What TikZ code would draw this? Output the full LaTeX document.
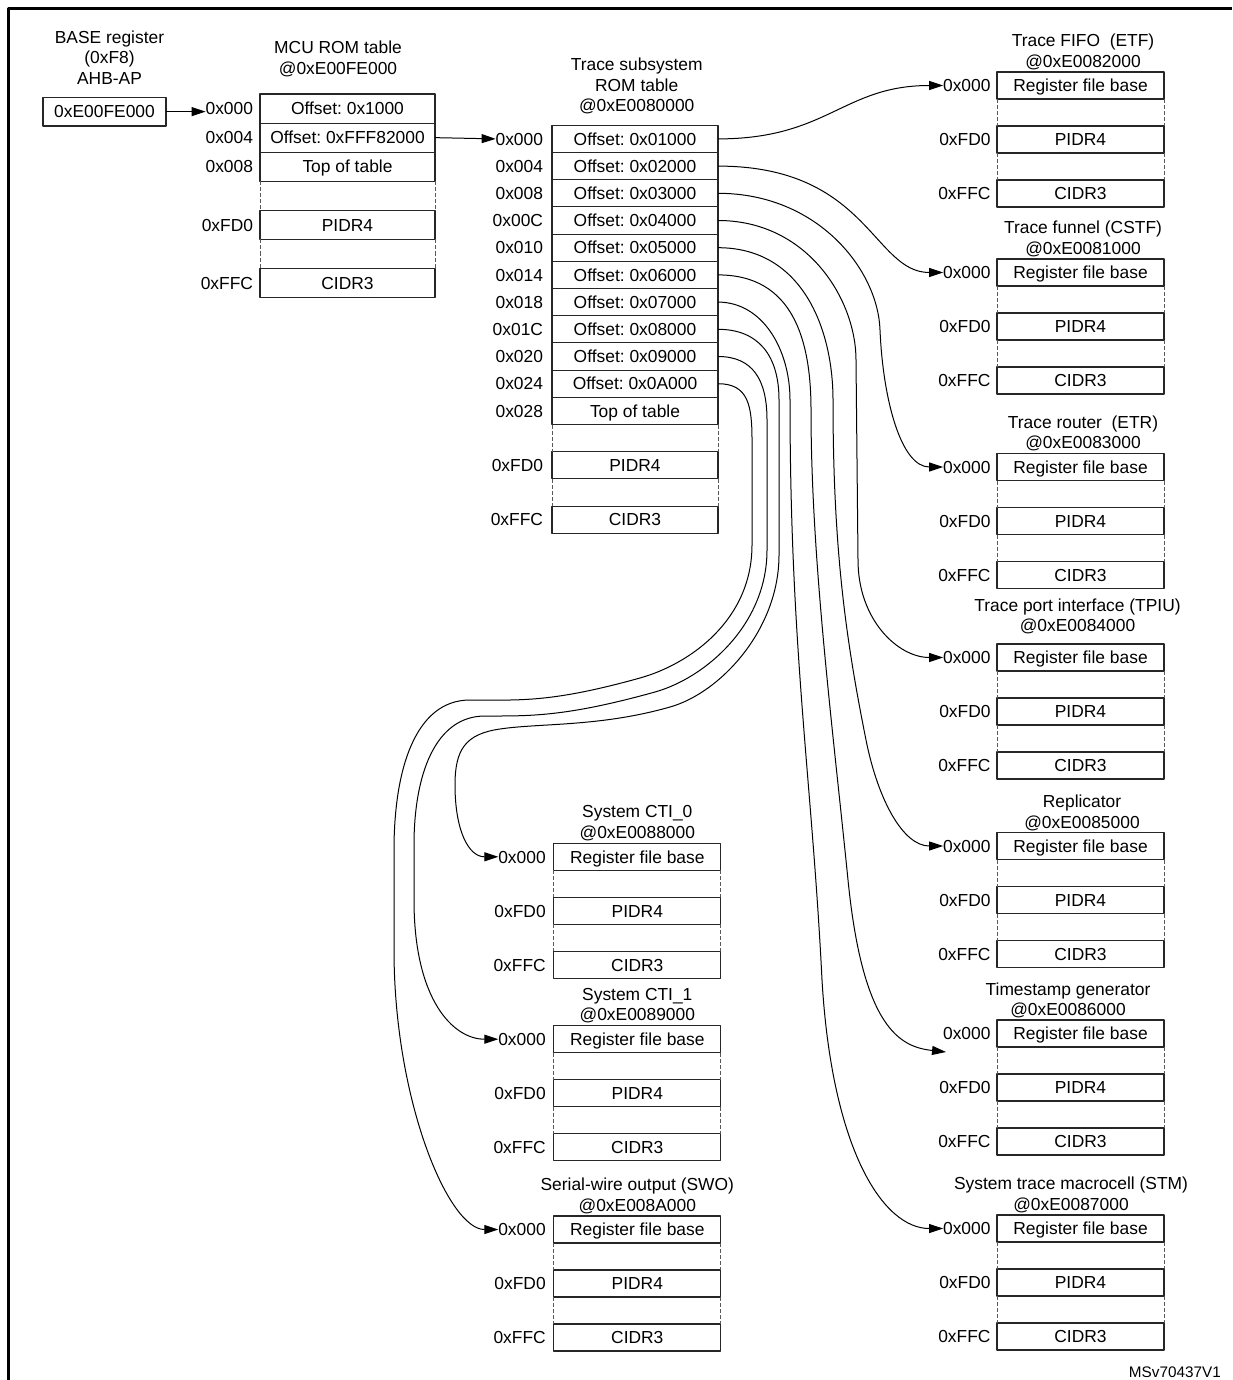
\documentclass[tikz,border=0pt]{standalone}
\usepackage{fontspec}
\setmainfont{Liberation Sans}
\usetikzlibrary{arrows.meta}
\newcommand\myfs{\fontsize{17.4}{20.7}\selectfont}
\tikzset{
  txt/.style={inner sep=0pt, outer sep=0pt, text height=16pt, text depth=3.6pt, font=\myfs},
  cell/.style={draw=black!85, line width=1.1pt, inner sep=0pt, outer sep=0pt, text height=16pt, text depth=3.6pt, font=\myfs, minimum width=167pt, minimum height=27pt},
  gapln/.style={draw=black!65, line width=0.7pt, dash pattern=on 4pt off 2pt},
  conn/.style={draw=black, line width=1pt, -{Triangle[length=14pt,width=9pt]}},
}
% #1 name, #2 box centre x, #3 top y, #4 label right x, #5 title x, #6 title line-1 y, #7 line 1, #8 line 2
\newcommand\compblk[8]{%
  \node[cell] (#1a) at (#2,#3+13.5) {Register file base};
  \node[cell] (#1b) at (#2,#3+67.5) {PIDR4};
  \node[cell] (#1c) at (#2,#3+121.5) {CIDR3};
  \draw[gapln] (#1a.south west) -- (#1b.north west) (#1b.south west) -- (#1c.north west)
               (#1a.south east) -- (#1b.north east) (#1b.south east) -- (#1c.north east);
  \node[txt,anchor=east] (#1la) at (#4,#3+13.5) {0x000};
  \node[txt,anchor=east] (#1lb) at (#4,#3+67.5) {0xFD0};
  \node[txt,anchor=east] (#1lc) at (#4,#3+121.5) {0xFFC};
  \node[txt] (#1ta) at (#5,#6) {#7};
  \node[txt] (#1tb) at (#5,#6+20.5) {#8};
}
\begin{document}
\frenchspacing
\begin{tikzpicture}[x=1pt,y=-1pt,line join=round]
\useasboundingbox (0,0) rectangle (1232,1380);
\fill[white] (0,0) rectangle (1232,1380);
% frame
\draw[line width=3pt] (8.5,1380) -- (8.5,8.5) -- (1232,8.5);

% BASE register
\node[txt] (bt1) at (109.5,37) {BASE register};
\node[txt] (bt2) at (109.5,57.5) {(0xF8)};
\node[txt] (bt3) at (109.5,78) {AHB-AP};
\node[cell, minimum width=123pt, minimum height=28.7pt] (base) at (104.5,111.65) {0xE00FE000};

% MCU ROM table
\node[txt] (mt1) at (338,47) {MCU ROM table};
\node[txt] (mt2) at (338,68) {@0xE00FE000};
\node[cell, minimum width=175pt, minimum height=29.1pt] (m1) at (347.5,108.55) {Offset: 0x1000};
\node[cell, minimum width=175pt, minimum height=29.1pt] (m2) at (347.5,137.65) {Offset: 0xFFF82000};
\node[cell, minimum width=175pt, minimum height=29.1pt] (m3) at (347.5,166.75) {Top of table};
\node[cell, minimum width=175pt, minimum height=29.1pt] (m4) at (347.5,224.95) {PIDR4};
\node[cell, minimum width=175pt, minimum height=29.1pt] (m5) at (347.5,283.15) {CIDR3};
\draw[gapln] (m3.south west) -- (m4.north west) (m4.south west) -- (m5.north west)
             (m3.south east) -- (m4.north east) (m4.south east) -- (m5.north east);
\node[txt,anchor=east] (ml1) at (253,108.55) {0x000};
\node[txt,anchor=east] (ml2) at (253,137.65) {0x004};
\node[txt,anchor=east] (ml3) at (253,166.75) {0x008};
\node[txt,anchor=east] (ml4) at (253,224.95) {0xFD0};
\node[txt,anchor=east] (ml5) at (253,283.15) {0xFFC};

\draw[conn] (base.east) -- (base.east -| ml1.west);

% Trace subsystem ROM table
\node[txt] (tt1) at (636.7,64.3) {Trace subsystem};
\node[txt] (tt2) at (636.7,85) {ROM table};
\node[txt] (tt3) at (636.7,105.7) {@0xE0080000};
\foreach \i/\off/\lab in {1/0x01000/000,2/0x02000/004,3/0x03000/008,4/0x04000/00C,5/0x05000/010,
                          6/0x06000/014,7/0x07000/018,8/0x08000/01C,9/0x09000/020,10/0x0A000/024}{
  \node[cell, minimum width=166pt, minimum height=27.2pt] (t\i) at (635,111.7+27.2*\i) {Offset: \off};
  \node[txt,anchor=east] (tl\i) at (543,111.7+27.2*\i) {0x\lab};
}
\node[cell, minimum width=166pt, minimum height=27.2pt] (t11) at (635,410.9) {Top of table};
\node[txt,anchor=east] (tl11) at (543,410.9) {0x028};
\node[cell, minimum width=166pt, minimum height=27.2pt] (t12) at (635,465.3) {PIDR4};
\node[txt,anchor=east] (tl12) at (543,465.3) {0xFD0};
\node[cell, minimum width=166pt, minimum height=27.2pt] (t13) at (635,519.7) {CIDR3};
\node[txt,anchor=east] (tl13) at (543,519.7) {0xFFC};
\draw[gapln] (t11.south west) -- (t12.north west) (t12.south west) -- (t13.north west)
             (t11.south east) -- (t12.north east) (t12.south east) -- (t13.north east);

\draw[conn] (m2.east) -- (tl1.west);

% right column components
\compblk{etf}{1080.5}{72}{990.5}{1083}{40.5}{Trace FIFO~~(ETF)}{@0xE0082000}
\compblk{cstf}{1080.5}{259}{990.5}{1083}{227.5}{Trace funnel (CSTF)}{@0xE0081000}
\compblk{etr}{1080.5}{453.5}{990.5}{1083}{422}{Trace router~~(ETR)}{@0xE0083000}
\compblk{tpiu}{1080.5}{644}{990.5}{1077.5}{605}{Trace port interface (TPIU)}{@0xE0084000}
\compblk{repl}{1080.5}{832.5}{990.5}{1082}{801.5}{Replicator}{@0xE0085000}
\compblk{ts}{1080.5}{1020}{990.5}{1068}{989}{Timestamp generator}{@0xE0086000}
\compblk{stm}{1080.5}{1215}{990.5}{1071}{1183.5}{System trace macrocell (STM)}{@0xE0087000}

% left-bottom components
\compblk{ctia}{637.3}{843.3}{545.7}{637.3}{811.7}{System CTI\_0}{@0xE0088000}
\compblk{ctib}{637.3}{1025.7}{545.7}{637.3}{994}{System CTI\_1}{@0xE0089000}
\compblk{swo}{637.3}{1216}{545.7}{637.3}{1184.3}{Serial-wire output (SWO)}{@0xE008A000}

\coordinate (tsend) at (946,1052);

% connectors
\draw[conn] (t1.east) .. controls +(110,0) and +(-100,0) .. (etfla.west);
\draw[conn] (t2.east) .. controls +(150,0) and +(-70,0) .. (cstfla.west);
\draw[conn] (t3.east) .. controls +(100,0) and +(-2,-60) .. (880,330)
                      .. controls +(3,70) and +(-42,0) .. (etrla.west);
\draw[conn] (t4.east) .. controls +(90,0) and +(0,-60) .. (856,360) -- (858,560)
                      .. controls +(0,60) and +(-45,0) .. (tpiula.west);
\draw[conn] (t5.east) .. controls +(85,0) and +(0,-70) .. (833,400)
                      .. controls +(0,150) and +(-20,-100) .. (866,740)
                      .. controls +(12,60) and +(-40,0) .. (replla.west);
\draw[conn] (t6.east) .. controls +(75,0) and +(0,-70) .. (811,410)
                      .. controls +(0,150) and +(-15,-150) .. (848,880)
                      .. controls +(15,150) and +(-45,-5) .. (tsend);
\draw[conn] (t7.east) .. controls +(45,0) and +(0,-50) .. (790,400)
                      .. controls +(0,250) and +(-10,-200) .. (822,980)
                      .. controls +(10,170) and +(-60,0) .. (stmla.west);
\draw[conn] (t8.east) .. controls +(40,0) and +(0,-45) .. (779,400) -- (779,555)
                      .. controls +(0,75) and +(50,-14) .. (670,707)
                      .. controls +(-70,20) and +(40,-6) .. (500,729)
                      .. controls +(-35,5) and +(0,-35) .. (455,785)
                      .. controls +(0,45) and +(-30,0) .. (ctiala.west);
\draw[conn] (t9.east) .. controls +(35,0) and +(0,-40) .. (767,420) -- (767,550)
                      .. controls +(0,75) and +(50,-14) .. (655,692)
                      .. controls +(-90,25) and +(45,0) .. (485,716)
                      .. controls +(-50,0) and +(0,-70) .. (414,845) -- (414,900)
                      .. controls +(0,100) and +(-45,0) .. (ctibla.west);
\draw[conn] (t10.east) .. controls +(30,0) and +(0,-35) .. (752,440) -- (752,545)
                      .. controls +(0,75) and +(50,-14) .. (640,678)
                      .. controls +(-90,25) and +(50,0) .. (470,700)
                      .. controls +(-55,0) and +(0,-80) .. (394,850) -- (394,950)
                      .. controls +(0,150) and +(-50,0) .. (swola.west);

\node[inner sep=0pt, font=\fontsize{15.3}{18}\selectfont, anchor=east] (msv) at (1221,1372.5) {MSv70437V1};
\end{tikzpicture}
\end{document}
